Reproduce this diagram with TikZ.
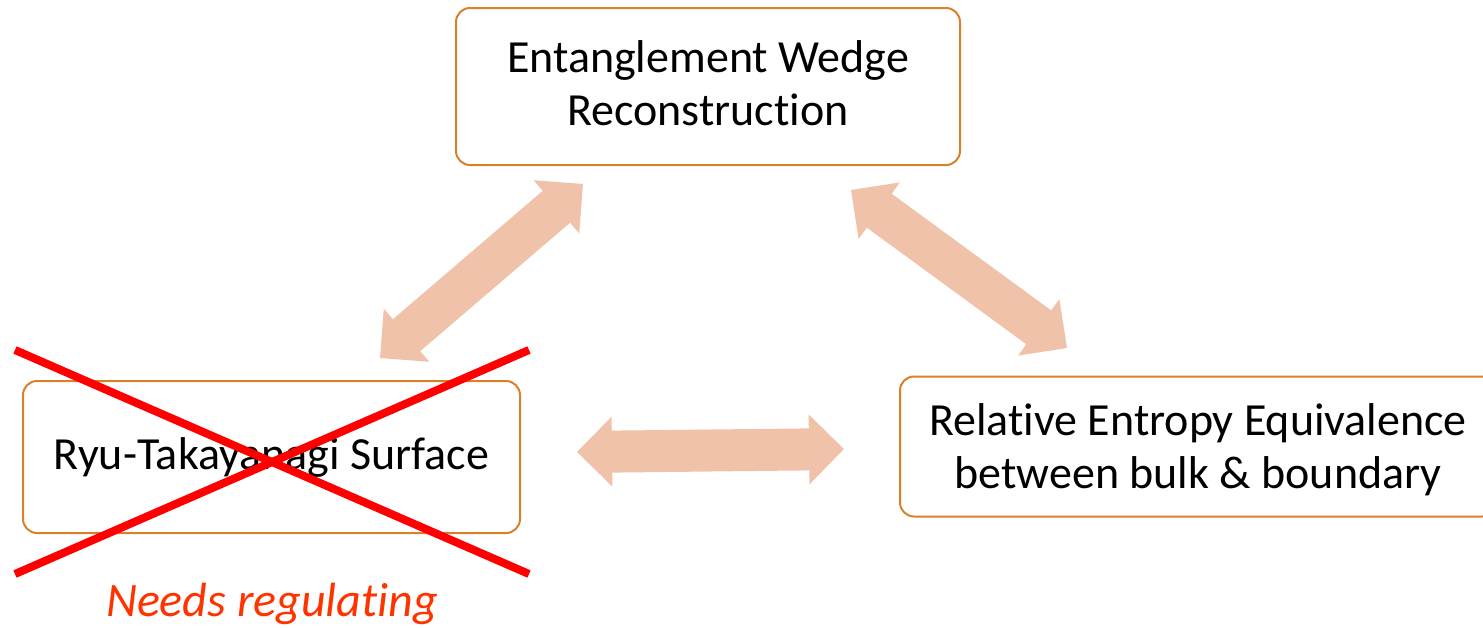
\documentclass[tikz,border=0pt]{standalone}
\usepackage{fontspec}
\setmainfont{Carlito}[Ligatures={NoCommon,NoRequired,NoContextual}]
\usetikzlibrary{calc}
\definecolor{boxline}{HTML}{D98028}
\definecolor{arrowfill}{HTML}{F0C2AA}
\definecolor{crossred}{HTML}{FF0000}
\definecolor{noteorange}{HTML}{FF3300}
% block double arrow between two named coordinates
\newcommand\blockarrow[2]{%
  \fill[arrowfill]
    (#1)
    -- ($(#1)!17.5pt!(#2)!17.5pt!90:(#2)$)
    -- ($(#1)!17.5pt!(#2)!10.5pt!90:(#2)$)
    -- ($(#2)!17.5pt!(#1)!10.5pt!-90:(#1)$)
    -- ($(#2)!17.5pt!(#1)!17.5pt!-90:(#1)$)
    -- (#2)
    -- ($(#2)!17.5pt!(#1)!17.5pt!90:(#1)$)
    -- ($(#2)!17.5pt!(#1)!10.5pt!90:(#1)$)
    -- ($(#1)!17.5pt!(#2)!10.5pt!-90:(#2)$)
    -- ($(#1)!17.5pt!(#2)!17.5pt!-90:(#2)$)
    -- cycle;}
\begin{document}
\begin{tikzpicture}[x=0.5pt,y=-0.5pt,
  box/.style={draw=boxline, line width=1pt, rounded corners=7pt, align=center,
    font=\fontsize{23}{26.5}\selectfont, inner sep=0pt},
  cross/.style={draw=crossred, line width=4pt},
  note/.style={text=noteorange, font=\fontsize{24}{28}\selectfont\itshape, inner sep=0pt, anchor=base}]
\useasboundingbox (0,0) rectangle (1483,627);

\node[box, minimum width=252pt, minimum height=78.5pt, text depth=3pt] (ew) at (708,86.5)
  {Entanglement Wedge\\Reconstruction};
\node[box, minimum width=248.5pt, minimum height=76pt] (rt) at (271.5,457)
  {Ryu-Takayanagi Surface};
\node[box, minimum width=298pt, minimum height=70pt, text depth=0pt] (re) at (1198,446.5)
  {Relative Entropy Equivalence\\between bulk \& boundary};

\coordinate (a1) at (380,358);
\coordinate (a2) at (583,184);
\coordinate (b1) at (851,190);
\coordinate (b2) at (1067,348);
\coordinate (c1) at (577,452);
\coordinate (c2) at (844,449);
\blockarrow{a1}{a2}
\blockarrow{b1}{b2}
\blockarrow{c1}{c2}

\coordinate (x1) at (15,350);
\coordinate (x2) at (529,574);
\coordinate (x3) at (15,574);
\coordinate (x4) at (529,350);
\draw[cross] (x1) -- (x2);
\draw[cross] (x3) -- (x4);

\node[note] (nr) at (272,616) {Needs regulating};
\end{tikzpicture}
\end{document}
